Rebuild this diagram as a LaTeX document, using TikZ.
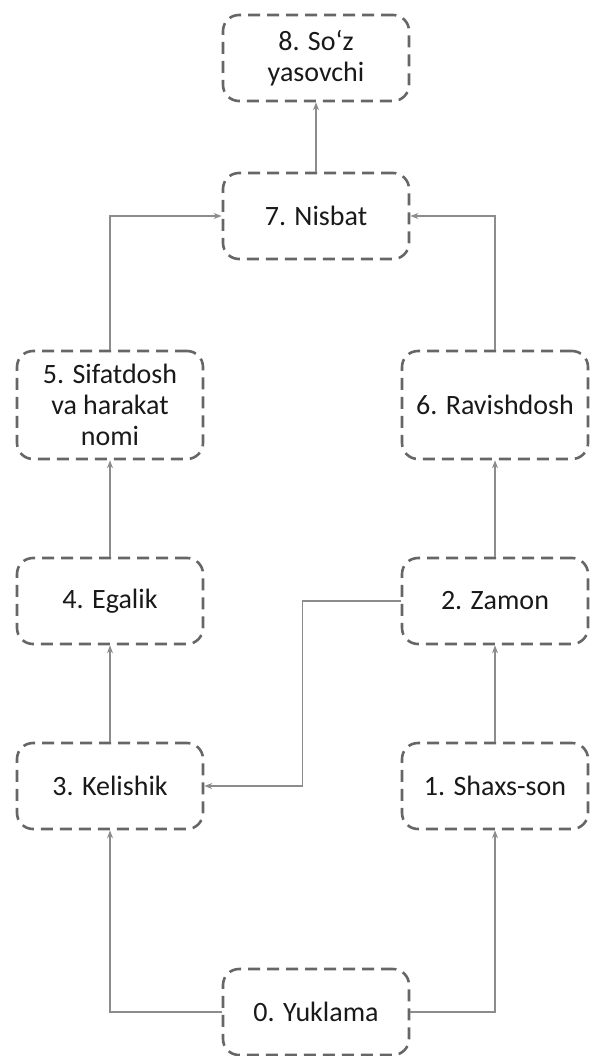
\documentclass[tikz,border=0pt]{standalone}
\usepackage{fontspec}
\setmainfont{Carlito}
\usetikzlibrary{arrows.meta,positioning,calc}

\begin{document}
\begin{tikzpicture}[x=1pt, y=-1pt,
    morf/.style={rectangle, draw=black!60, dash pattern=on 12pt off 7pt, line width=2.6pt, rounded corners=16pt, minimum width=186pt, minimum height=86pt, align=center, text=black!90, font=\fontsize{28}{31}\selectfont},
    tall/.style={minimum height=108pt},
    link/.style={->, draw=black!45, line width=1.3pt},
    >={Stealth[length=8pt,width=6pt]}
]
    \useasboundingbox (0,0) rectangle (595,1056);

    % Qo'shimchalar
    \node[morf] (n8) at (316,58) {8. So‘z\\yasovchi};
    \node[morf] (n7) at (316,216) {7. Nisbat};
    \node[morf, tall] (n5) at (110,405) {5. Sifatdosh\\va harakat\\nomi};
    \node[morf, tall] (n6) at (495,405) {6. Ravishdosh};
    \node[morf] (n4) at (110,601) {4. Egalik};
    \node[morf] (n2) at (495,601) {2. Zamon};
    \node[morf] (n3) at (110,786) {3. Kelishik};
    \node[morf] (n1) at (495,786) {1. Shaxs-son};
    \node[morf] (n0) at (316,1012) {0. Yuklama};

    % Tartib
    \draw[link] (n0.west) -| (n3.south);
    \draw[link] (n0.east) -| (n1.south);
    \draw[link] (n1) -- (n2);
    \draw[link] (n2.west) -- ++(-98,0) |- (n3.east);
    \draw[link] (n3) -- (n4);
    \draw[link] (n4) -- (n5);
    \draw[link] (n2) -- (n6);
    \draw[link] (n5.north) |- (n7.west);
    \draw[link] (n6.north) |- (n7.east);
    \draw[link] (n7) -- (n8);
\end{tikzpicture}
\end{document}
